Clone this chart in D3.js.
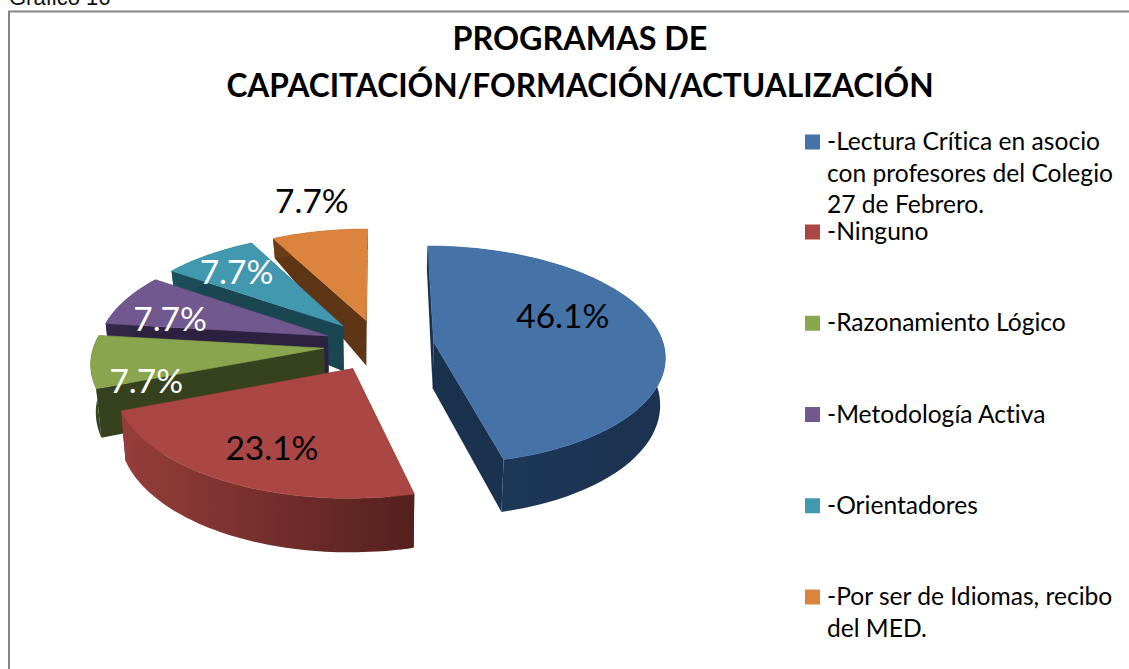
<!DOCTYPE html>
<html><head><meta charset="utf-8">
<script src="https://cdn.jsdelivr.net/npm/d3@7/dist/d3.min.js"></script>
<style>html,body{margin:0;padding:0;background:#fff;overflow:hidden}svg{display:block}text{font-variant-ligatures:none}</style>
</head><body><svg id="c" width="1129" height="669"></svg>
<script>
// ---- data ----
const caption = "Gráfico 16";
const titleLines = ["PROGRAMAS DE", "CAPACITACIÓN/FORMACIÓN/ACTUALIZACIÓN"];
const categories = [
  ["-Lectura Crítica en asocio", "con profesores del Colegio", "27 de Febrero."],
  ["-Ninguno"],
  ["-Razonamiento Lógico"],
  ["-Metodología Activa"],
  ["-Orientadores"],
  ["-Por ser de Idiomas, recibo", "del MED."]
];
const values = [46.1, 23.1, 7.7, 7.7, 7.7, 7.7];
const valueLabels = ["46.1%", "23.1%", "7.7%", "7.7%", "7.7%", "7.7%"];

// ---- style ----
const topColors  = ["#4572a7", "#aa4643", "#89a54e", "#71588f", "#4198af", "#db843d"];
const wallLight  = ["#1f3a5c", "#963e3b", "#43532a", "#35294a", "#1d4f5c", "#6b3d18"];
const wallDark   = ["#1b324f", "#54201e", "#36421f", "#2c2140", "#1a4652", "#5f3615"];
const labelColors = ["#000", "#000", "#fff", "#fff", "#fff", "#000"];
const labelRadius = [0.64, 0.715, 0.79, 0.73, 0.755, 1.382];
const labelAngleDeg = [66.7, 205.4, 248.5, 283.1, 317, 347.9];
const drawOrder = [5, 4, 3, 2, 1, 0];
const font = "Lato, 'Open Sans', sans-serif";

// ---- projection: flat pie seen in perspective ----
const cx = 379, cy = 345, Rx = 230, Ry = 108, persp = 0.12, explode = 0.24, lowShrink = 0.982;
const depthAt = d3.scaleLinear().domain([-1.12, -0.25, 1.2]).range([20, 45, 54]).clamp(true);
const project = (u, v, low) => {
  const s = 1 / (1 - persp * v);
  return [cx + Rx * u * s * (low ? lowShrink : 1), cy + Ry * v * s + (low ? depthAt(v) : 0)];
};
const polar = (a, r) => [r * Math.sin(a), -r * Math.cos(a)];

const svg = d3.select("#c");
const defs = svg.append("defs");

// caption and frame
svg.append("text").attr("x", 9).attr("y", 5).attr("font-family", "'Liberation Sans', Arial, sans-serif")
  .attr("font-size", 22).attr("fill", "#111").text(caption);
svg.append("path").attr("d", "M9,669V11.5H1129").attr("fill", "none").attr("stroke", "#868686").attr("stroke-width", 2);

// title
svg.append("g").selectAll("text").data(titleLines).join("text")
  .attr("x", 580).attr("y", (d, i) => 50 + i * 47)
  .attr("text-anchor", "middle").attr("font-family", font).attr("font-weight", 700)
  .attr("font-size", (d, i) => i ? 31.7 : 32.3).attr("fill", "#000").text(d => d);

// pie
const arcs = d3.pie().sort(null).value(d => d).startAngle(0).endAngle(2 * Math.PI)(values);
const line = d3.line();
const pieG = svg.append("g");
drawOrder.forEach(i => {
  const d = arcs[i];
  const mid = (d.startAngle + d.endAngle) / 2;
  const [ox, oy] = polar(mid, explode);
  const steps = d3.range(0, 61).map(k => d.startAngle + (d.endAngle - d.startAngle) * k / 60);
  const rim = steps.map(a => { const [x, y] = polar(a, 1); return [ox + x, oy + y]; });
  const P = (g, low) => project(g[0], g[1], low);
  const apex = [ox, oy];
  const g = pieG.append("g");

  const topRim = rim.map(p => P(p, false));
  const lowRim = rim.map(p => P(p, true));
  const gid = "wall" + i;
  const xs = d3.extent(topRim, p => p[0]);
  const grad = defs.append("linearGradient").attr("id", gid).attr("gradientUnits", "userSpaceOnUse")
    .attr("x1", xs[0]).attr("x2", xs[1]).attr("y1", 0).attr("y2", 0);
  grad.append("stop").attr("offset", 0).attr("stop-color", wallLight[i]);
  grad.append("stop").attr("offset", 1).attr("stop-color", wallDark[i]);

  [rim[0], rim[rim.length - 1]].forEach(edge => {
    g.append("path").attr("fill", wallDark[i])
      .attr("d", line([P(apex, false), P(edge, false), P(edge, true), P(apex, true)]) + "Z");
  });
  g.append("path").attr("fill", `url(#${gid})`)
    .attr("d", line(topRim.concat(lowRim.slice().reverse())) + "Z");
  g.append("path").attr("fill", topColors[i]).attr("stroke", topColors[i]).attr("stroke-width", 0.6)
    .attr("d", line([P(apex, false)].concat(topRim)) + "Z");
});

// value labels
arcs.forEach((d, i) => {
  const mid = (d.startAngle + d.endAngle) / 2;
  const [ox, oy] = polar(mid, explode);
  const [lx, ly] = polar(labelAngleDeg[i] * Math.PI / 180, labelRadius[i]);
  const [x, y] = project(ox + lx, oy + ly, false);
  svg.append("text").attr("x", x).attr("y", y).attr("dy", "0.36em")
    .attr("text-anchor", "middle").attr("font-family", font).attr("font-size", 33.5)
    .attr("fill", labelColors[i]).text(valueLabels[i]);
});

// legend
const legendY = d3.scalePoint().domain(d3.range(1, 6)).range([240, 605]);
const legend = svg.append("g").attr("font-family", font).attr("font-size", 24.6).attr("fill", "#000");
categories.forEach((lines, i) => {
  const base = i === 0 ? 150 : legendY(i);
  legend.append("rect").attr("x", 805).attr("y", base - 15.5).attr("width", 15).attr("height", 15).attr("fill", topColors[i]);
  lines.forEach((t, j) => {
    legend.append("text").attr("x", 827).attr("y", base + j * 31.5).text(t);
  });
});
</script></body></html>
